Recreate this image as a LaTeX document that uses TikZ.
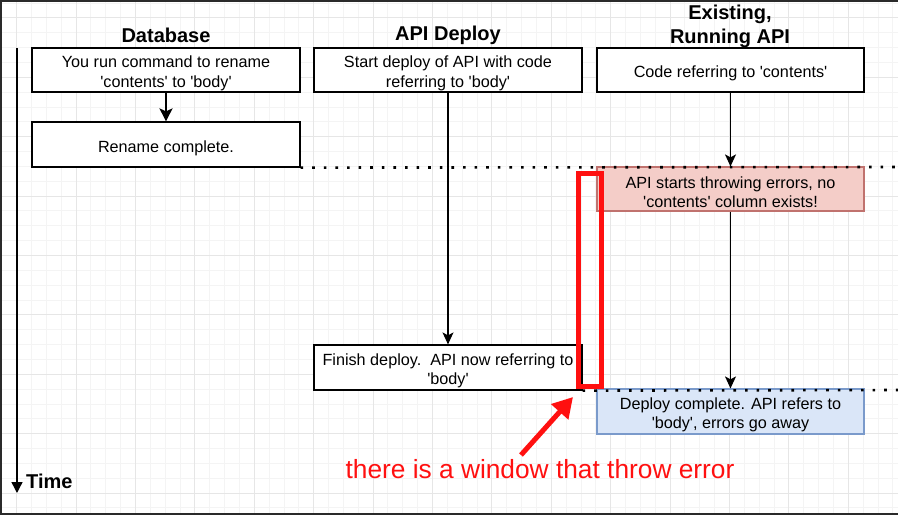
\documentclass[tikz,border=0pt]{standalone}
\usepackage{fontspec}
\setmainfont{Liberation Sans}[Ligatures=TeXOff]
\usetikzlibrary{arrows.meta}
\definecolor{gridminor}{HTML}{F4F4F4}
\definecolor{gridmajor}{HTML}{E6E6E6}
\definecolor{errfill}{HTML}{F4CDC8}
\definecolor{errdraw}{HTML}{C0726E}
\definecolor{okfill}{HTML}{DAE6F8}
\definecolor{okdraw}{HTML}{7A9ACB}
\definecolor{annot}{HTML}{FF1010}
\definecolor{framecol}{HTML}{2A2A2A}
\tikzset{
  box/.style={draw=black, line width=1.2pt, fill=white, rectangle, minimum width=268pt, minimum height=44pt, inner sep=0pt},
  errbox/.style={box, draw=errdraw, fill=errfill, minimum width=267pt},
  okbox/.style={box, draw=okdraw, fill=okfill, minimum width=267pt},
  boxtext/.style={align=center, inner sep=0pt, font=\fontsize{16.2}{19.6}\selectfont, yshift=-3.4pt},
  title/.style={font=\fontsize{20}{24}\selectfont\bfseries, align=center, inner sep=0pt},
  conn/.style={draw=black, line width=1.2pt, -{Stealth[length=12pt,width=11pt,inset=3pt]}},
  dotline/.style={draw=black, line width=2.6pt, dash pattern=on 2.6pt off 9pt},
}
\begin{document}
\begin{tikzpicture}[x=1pt,y=-1pt]
\useasboundingbox (0,0) rectangle (898,515);
\fill[white] (0,0) rectangle (898,515);
% grid
\foreach \i in {0,...,60} {\draw[gridminor, line width=0.8pt] ({1.75+14.85*\i},0) -- ++(0,515);}
\foreach \i in {0,...,34} {\draw[gridminor, line width=0.8pt] (0,{2.95+14.85*\i}) -- ++(898,0);}
\foreach \i in {0,...,15} {\draw[gridmajor, line width=0.9pt] ({16.6+59.4*\i},0) -- ++(0,515);}
\foreach \i in {0,...,8} {\draw[gridmajor, line width=0.9pt] (0,{17.8+59.4*\i}) -- ++(898,0);}
% frame
\draw[framecol, line width=2pt] (898,1) -- (1,1) -- (1,514) -- (898,514);

% titles
\node[title] (tdb) at (166,35) {Database};
\node[title] (tapi) at (448,35) {API Deploy};
\node[title] (tex) at (730,26) {Existing,\\Running API};

% coordinates for free ends
\coordinate (d1end) at (898,167);
\coordinate (d2end) at (898,390);

% boxes
\node[box] (run) at (166,70) {};
\node[box, minimum height=45pt] (ren) at (166,144.5) {};
\node[box] (dep) at (448,70) {};
\node[box, minimum width=267pt] (cur) at (730.5,70) {};
\node[box, minimum height=45pt] (fin) at (448,367.5) {};
\node[errbox] (err) at (730.5,189) {};
\node[okbox, minimum height=45pt] (ok) at (730.5,411.5) {};

% box texts
\node[boxtext] (runt) at (run.center) {You run command to rename\\'contents' to 'body'};
\node[boxtext] (rent) at (ren.center) {Rename complete.};
\node[boxtext] (dept) at (dep.center) {Start deploy of API with code\\referring to 'body'};
\node[boxtext] (curt) at (cur.center) {Code referring to 'contents'};
\node[boxtext] (fint) at (fin.center) {Finish deploy.\ \ API now referring to\\'body'};
\node[boxtext] (errt) at (err.center) {API starts throwing errors, no\\'contents' column exists!};
\node[boxtext] (okt) at (ok.center) {Deploy complete. API refers to\\'body', errors go away};

% dotted lines
\draw[dotline] (ren.south east) -- (d1end);
\draw[dotline] (fin.south east) -- (d2end);

% connectors
\draw[conn, line width=2pt, -{Stealth[length=13pt,width=13pt,inset=3pt]}] (run.south) -- (ren.north);
\draw[conn] (dep.south) -- (fin.north);
\draw[conn] (cur.south) -- (err.north);
\draw[conn] (err.south) -- (ok.north);

% time axis
\coordinate (t0) at (17,48);
\coordinate (t1) at (17,493);
\draw[line width=1.4pt, -{Triangle[length=11pt,width=11pt]}] (t0) -- (t1);
\node[title, anchor=west] (time) at (26,481) {Time};

% annotation
\node[draw=annot, line width=5pt, rectangle, minimum width=23.3pt, minimum height=213.5pt, inner sep=0pt] (win) at (590.2,279.8) {};
\coordinate (atail) at (521,455);
\coordinate (ahead) at (573,397);
\draw[annot, line width=5pt, -{Triangle[length=20pt,width=22pt]}] (atail) -- (ahead);
\node[text=annot, font=\fontsize{26.3}{30}\selectfont, inner sep=0pt] (note) at (540,469) {there is a window that throw error};
\end{tikzpicture}
\end{document}
